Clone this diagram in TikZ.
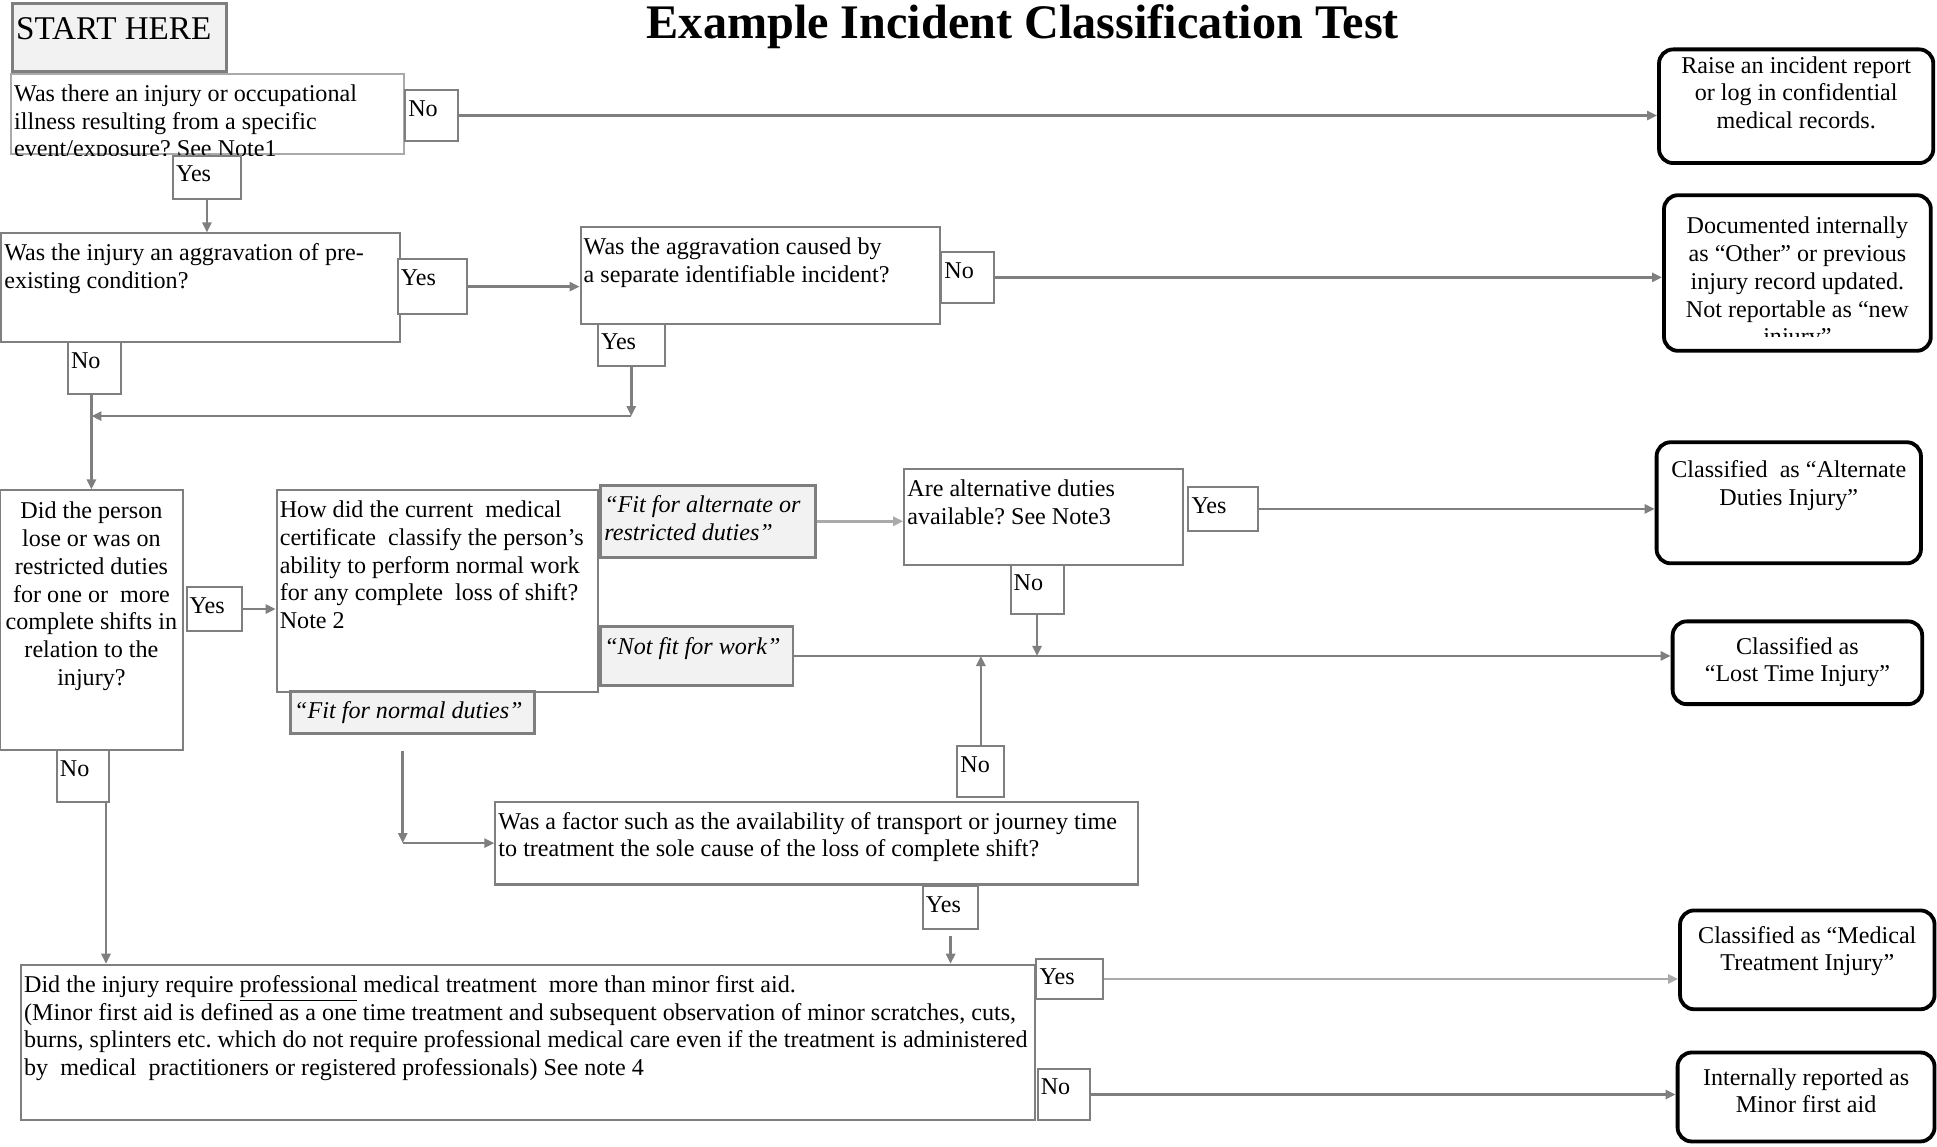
\documentclass[tikz,border=0pt]{standalone}
\usepackage{fontspec}
\setmainfont{Liberation Serif}
\usetikzlibrary{fit,arrows.meta}
\definecolor{linegray}{RGB}{127,127,127}
\definecolor{lightline}{RGB}{170,170,170}
\definecolor{boxfill}{RGB}{242,242,242}
\frenchspacing

\begin{document}
\begin{tikzpicture}[x=0.615pt, y=-0.615pt,
	every node/.style={font=\fontsize{12}{13.8}\selectfont},
	qbox/.style={rectangle, draw=linegray, line width=1pt, fill=white, inner sep=0pt},
	gbox/.style={rectangle, draw=linegray, line width=1.4pt, fill=boxfill, inner sep=0pt},
	endbox/.style={rectangle, rounded corners=7pt, draw=black, line width=1.9pt, fill=white, inner sep=0pt},
	tx/.style={anchor=north west, inner sep=0pt, align=left},
	ctx/.style={anchor=north, inner sep=0pt, align=center},
	arr/.style={draw=linegray, line width=1.25pt, -{Triangle[length=5pt,width=4.5pt]}},
	larr/.style={arr, draw=lightline}]
			\useasboundingbox (0,0) rectangle (1568,928);
			
			\node[font=\fontsize{24}{28}\selectfont\bfseries, anchor=base] (title) at (828,31) {Example Incident Classification Test};
			
			% start and first question
			\node[gbox, line width=1.5pt, fit={(10,3) (183,58)}] (start) {};
			\node[tx, font=\fontsize{16.5}{19}\selectfont] (startt) at ([shift={(4,12)}]start.north west) {START HERE};
			\node[qbox, draw=lightline, fit={(9,60) (327,125)}] (q1) {};
			\begin{scope}
				\clip (q1.south west) rectangle ([shift={(0,2)}]q1.north east);
				\node[tx] (q1t) at ([shift={(3,9)}]q1.north west) {Was there an injury or occupational\\illness resulting from a specific\\event/exposure? See Note1};
			\end{scope}
			\node[qbox, fit={(328,73) (371,114)}] (q1no) {};
			\node[tx] (q1not) at ([shift={(3,9)}]q1no.north west) {No};
			\node[qbox, fit={(140,126) (195,161)}] (q1yes) {};
			\node[tx] (q1yest) at ([shift={(3,9)}]q1yes.north west) {Yes};
			
			% aggravation
			\node[qbox, fit={(1,189) (324,277)}] (q2) {};
			\node[tx] (q2t) at ([shift={(3,9)}]q2.north west) {Was the injury an aggravation of pre-\\existing condition?};
			\node[qbox, fit={(322,210) (378,254)}] (q2yes) {};
			\node[tx] (q2yest) at ([shift={(3,9)}]q2yes.north west) {Yes};
			\node[qbox, fit={(55,277) (98,319)}] (q2no) {};
			\node[tx] (q2not) at ([shift={(3,9)}]q2no.north west) {No};
			\node[qbox, fit={(470,184) (761,262)}] (q3) {};
			\node[tx] (q3t) at ([shift={(3,9)}]q3.north west) {Was the aggravation caused by\\a separate identifiable incident?};
			\node[qbox, fit={(762,204) (805,245)}] (q3no) {};
			\node[tx] (q3not) at ([shift={(3,9)}]q3no.north west) {No};
			\node[qbox, fit={(484,262) (538,296)}] (q3yes) {};
			\node[tx] (q3yest) at ([shift={(3,9)}]q3yes.north west) {Yes};
			
			% lost shifts
			\node[qbox, fit={(0,397) (148,607)}] (q4) {};
			\node[ctx] (q4t) at ([shift={(0,10)}]q4.north) {Did the person\\lose or was on\\restricted duties\\for one or~ more\\complete shifts in\\relation to the\\injury?};
			\node[qbox, fit={(151,475) (196,511)}] (q4yes) {};
			\node[tx] (q4yest) at ([shift={(3,9)}]q4yes.north west) {Yes};
			\node[qbox, fit={(46,607) (88,649)}] (q4no) {};
			\node[tx] (q4not) at ([shift={(3,9)}]q4no.north west) {No};
			\node[qbox, fit={(224,397) (484,560)}] (q5) {};
			\node[tx] (q5t) at ([shift={(3,9)}]q5.north west) {How did the current~ medical\\certificate~ classify the person’s\\ability to perform normal work\\for any complete~ loss of shift?\\Note 2};
			\node[gbox, fit={(486,393) (660,451)}] (fitalt) {};
			\node[tx, font=\fontsize{12}{13.8}\selectfont\itshape] (fitaltt) at ([shift={(4,9)}]fitalt.north west) {“Fit for alternate or\\restricted duties”};
			\node[gbox, fit={(486,507) (642,555)}] (notfit) {};
			\node[tx, font=\fontsize{12}{13.8}\selectfont\itshape] (notfitt) at ([shift={(4,10)}]notfit.north west) {“Not fit for work”};
			\node[gbox, fit={(235,560) (433,594)}] (fitnorm) {};
			\node[tx, font=\fontsize{12}{13.8}\selectfont\itshape] (fitnormt) at ([shift={(4,9)}]fitnorm.north west) {“Fit for normal duties”};
			\node[qbox, fit={(732,380) (958,457)}] (q6) {};
			\node[tx] (q6t) at ([shift={(3,9)}]q6.north west) {Are alternative duties\\available? See Note3};
			\node[qbox, fit={(962,394) (1018,430)}] (q6yes) {};
			\node[tx] (q6yest) at ([shift={(3,9)}]q6yes.north west) {Yes};
			\node[qbox, fit={(818,457) (861,497)}] (q6no) {};
			\node[tx] (q6not) at ([shift={(3,9)}]q6no.north west) {No};
			
			% transport and treatment
			\node[qbox, fit={(401,649) (921,716)}] (q7) {};
			\node[tx] (q7t) at ([shift={(3,9)}]q7.north west) {Was a factor such as the availability of transport or journey time\\to treatment the sole cause of the loss of complete shift?};
			\node[qbox, fit={(775,604) (813,645)}] (q7no) {};
			\node[tx] (q7not) at ([shift={(3,9)}]q7no.north west) {No};
			\node[qbox, fit={(747,717) (792,752)}] (q7yes) {};
			\node[tx] (q7yest) at ([shift={(3,9)}]q7yes.north west) {Yes};
			\node[qbox, fit={(17,781) (838,907)}] (q8) {};
			\node[tx] (q8t) at ([shift={(3,9)}]q8.north west) {Did the injury require \underline{professional} medical treatment~ more than minor first aid.\\(Minor first aid is defined as a one time treatment and subsequent observation of minor scratches, cuts,\\burns, splinters etc. which do not require professional medical care even if the treatment is administered\\by~ medical~ practitioners or registered professionals) See note 4};
			\node[qbox, fit={(839,776) (893,809)}] (q8yes) {};
			\node[tx] (q8yest) at ([shift={(3,9)}]q8yes.north west) {Yes};
			\node[qbox, fit={(840,865) (882,907)}] (q8no) {};
			\node[tx] (q8not) at ([shift={(3,9)}]q8no.north west) {No};
			
			% outcomes
			\node[endbox, fit={(1343,40) (1565,132)}] (raise) {};
			\node[ctx] (raiset) at ([shift={(0,7)}]raise.north) {Raise an incident report\\or log in confidential\\medical records.};
			\node[endbox, fit={(1347,158) (1563,284)}] (doc) {};
			\begin{scope}
				\clip ([shift={(2,2)}]doc.north west) rectangle ([shift={(-2,-13)}]doc.south east);
				\node[ctx] (doct) at ([shift={(0,19)}]doc.north) {Documented internally\\as “Other” or previous\\injury record updated.\\Not reportable as “new\\injury”};
			\end{scope}
			\node[endbox, fit={(1341,358) (1555,456)}] (alt) {};
			\node[ctx] (altt) at ([shift={(0,16)}]alt.north) {Classified~ as “Alternate\\Duties Injury”};
			\node[endbox, fit={(1354,503) (1556,570)}] (lost) {};
			\node[ctx] (lostt) at ([shift={(0,14)}]lost.north) {Classified as\\“Lost Time Injury”};
			\node[endbox, fit={(1360,737) (1566,817)}] (med) {};
			\node[ctx] (medt) at ([shift={(0,14)}]med.north) {Classified as “Medical\\Treatment Injury”};
			\node[endbox, fit={(1358,852) (1566,924)}] (minor) {};
			\node[ctx] (minort) at ([shift={(0,14)}]minor.north) {Internally reported as\\Minor first aid};
			
			% connectors
			\coordinate (j1) at ([shift={(0,40)}]q3yes.south);
			\coordinate (j2) at ([shift={(-3,0)}]q4no.south east);
			\coordinate (j3) at ([shift={(-8,13)}]fitnorm.south);
			\coordinate (j4) at (j3 |- q7.west);
			\coordinate (j5) at ([shift={(0,5)}]q7yes.south);
			
			\path (q1no.east) edge[arr] (raise.west |- q1no.east);
			\path (q1yes.south) edge[arr] (q1yes.south |- q2.north);
			\path (q2yes.east) edge[arr] (q3.west |- q2yes.east);
			\path (q3no.east) edge[arr] (doc.west |- q3no.east);
			\path (q3yes.south) edge[arr] (j1);
			\path (j1) edge[arr] (q4.north |- j1);
			\path (q4.north |- q2no.south) edge[arr] (q4.north);
			\path (j2) edge[arr] (j2 |- q8.north);
			\path (q4yes.east) edge[arr] (q5.west |- q4yes.east);
			\path (fitalt.east) edge[larr] (q6.west |- fitalt.east);
			\path (q6yes.east) edge[arr] (alt.west |- q6yes.east);
			\path (notfit.east) edge[arr] (lost.west |- notfit.east);
			\path (q6no.south) edge[arr] (q6no.south |- notfit.east);
			\path (q7no.north) edge[arr] (q7no.north |- notfit.east);
			\path (j3) edge[arr] (j4);
			\path (j4) edge[arr] (q7.west);
			\path (j5) edge[arr] (j5 |- q8.north);
			\path (q8yes.east) edge[larr] (med.west |- q8yes.east);
			\path (q8no.east) edge[arr] (minor.west |- q8no.east);
\end{tikzpicture}
\end{document}
